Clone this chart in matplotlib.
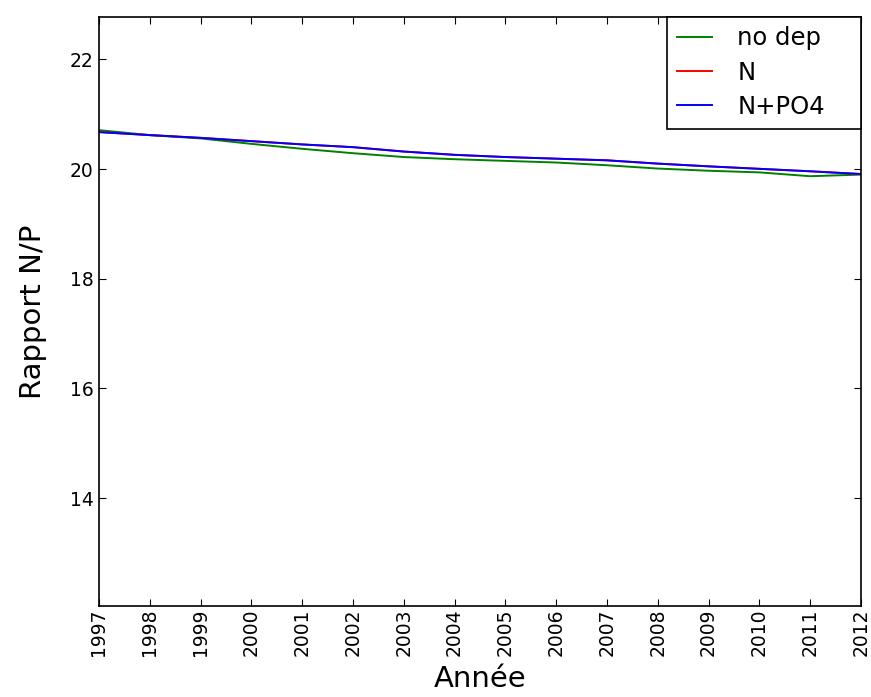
import matplotlib
matplotlib.use("Agg")
import matplotlib.pyplot as plt

years = list(range(1997, 2013))
no_dep = [20.71, 20.62, 20.56, 20.46, 20.37, 20.29, 20.22, 20.18, 20.15, 20.12,
          20.07, 20.01, 19.97, 19.94, 19.87, 19.90]
n_dep = [20.675, 20.62, 20.57, 20.51, 20.45, 20.40, 20.32, 20.26, 20.22, 20.19,
         20.16, 20.10, 20.05, 20.005, 19.96, 19.91]
npo4_dep = [20.675, 20.62, 20.57, 20.51, 20.45, 20.40, 20.32, 20.26, 20.22, 20.19,
            20.16, 20.10, 20.05, 20.005, 19.96, 19.91]
series_labels = ["no dep", "N", "N+PO4"]
yticks = [14, 16, 18, 20, 22]

plt.rcParams['font.family'] = ['DejaVu Sans']

fig = plt.figure(figsize=(8.71, 6.97), dpi=100)
ax = fig.add_axes([99/871, 1-606/697, (861-99)/871, (606-16.7)/697])

ax.plot(years, no_dep, color=(0, 0.5, 0), lw=1.4, label=series_labels[0])
ax.plot(years, n_dep, color=(1, 0, 0), lw=1.4, label=series_labels[1])
ax.plot(years, npo4_dep, color=(0, 0, 1), lw=1.4, label=series_labels[2])

ax.set_xlim(1997, 2012)
ax.set_ylim(12.03, 22.78)
ax.set_xticks(years)
ax.set_xticklabels([str(y) for y in years], rotation=90)
ax.set_yticks(yticks)
ax.tick_params(direction='in', top=True, right=True, labelsize=13.5, length=5, width=0.8)
ax.tick_params(axis='x', pad=2)
ax.tick_params(axis='y', pad=4)
for s in ax.spines.values():
    s.set_linewidth(1.2)

ax.set_xlabel("Année", fontsize=21, labelpad=6)
ax.set_ylabel("Rapport N/P", fontsize=21, labelpad=16)

leg = ax.legend(loc='upper right', bbox_to_anchor=(568/762, 0.0, 194/762, 1.0),
                mode='expand', borderaxespad=0, fontsize=17.5, fancybox=False,
                framealpha=1, edgecolor='black', handlelength=1.45, handletextpad=1.05,
                borderpad=0.4, labelspacing=0.42)
leg.get_frame().set_linewidth(1.2)

fig.savefig("out.png", dpi=100)
